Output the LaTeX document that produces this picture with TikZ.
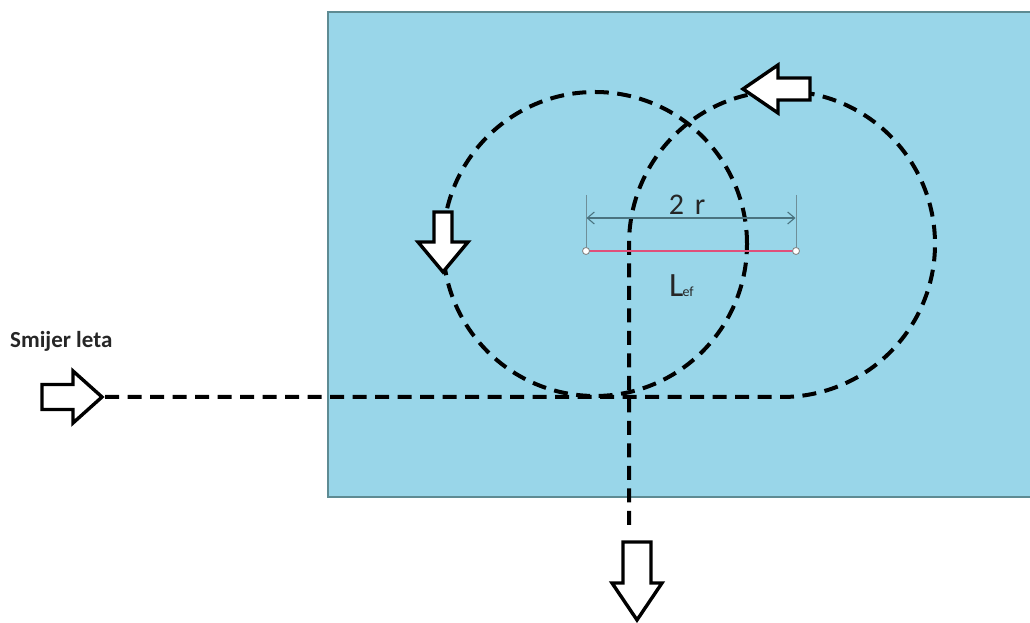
\documentclass[tikz,border=0pt]{standalone}
\usepackage{fontspec}
\setmainfont{Carlito}
\usetikzlibrary{arrows.meta}
\definecolor{sea}{HTML}{99D6E9}
\definecolor{seaedge}{HTML}{5E8B93}
\definecolor{dimcol}{HTML}{4A7380}
\definecolor{lefcol}{HTML}{E0507A}
\tikzset{
  flight/.style={draw=black, line width=4pt, dash pattern=on 14pt off 8.5pt},
  blockarrow/.style={draw=black, fill=white, line width=3.4pt, line join=miter},
  dimline/.style={draw=dimcol, line width=1.1pt},
  extline/.style={draw=dimcol!80, line width=0.9pt},
  endpt/.style={circle, draw=gray, fill=white, line width=0.8pt, inner sep=0pt, minimum size=7pt},
  txt/.style={inner sep=0pt, text=black!85}
}
\begin{document}
\begin{tikzpicture}[x=1pt,y=1pt]
\useasboundingbox (0,0) rectangle (1030,623);
% area
\draw[fill=sea, draw=seaedge, line width=1.6pt] (328,126) rectangle (1045,611);
% key points
\coordinate (start) at (105,226);
\coordinate (rbot) at (782,226);
\coordinate (lc) at (595,379);
\coordinate (exitpt) at (629,93);
% left full circle
\draw[flight] (lc) circle[radius=152];
% main flight path
\draw[flight] (start) -- (rbot) arc[start angle=-90, end angle=180, radius=153] -- (exitpt);
% dimension
\coordinate (dl) at (586,372);
\coordinate (dr) at (796,372);
\draw[extline] (586,428) -- (dl);
\draw[extline] (796,428) -- (dr);
\draw[dimline, {Straight Barb[length=7pt,width=12pt,line width=1.1pt]}-{Straight Barb[length=7pt,width=12pt,line width=1.1pt]}] (586.5,405) -- (795.5,405);
\draw[lefcol, line width=1.1pt] (dl) -- (dr);
\node[endpt] (pl) at (dl) {};
\node[endpt] (pr) at (dr) {};
\node[txt, anchor=base] (tworl) at (687,408) {\fontsize{30}{32}\selectfont 2\hspace{4pt} r};
\node[txt, anchor=base west] (lef) at (669,326) {\fontsize{34}{36}\selectfont L\kern-1pt\fontsize{14}{15}\selectfont ef};
% label
\node[txt, anchor=base west, font=\fontsize{23}{26}\selectfont\bfseries] (lbl) at (10,275) {Smijer leta};
% block arrows
\draw[blockarrow] (42,213.5) -- (73,213.5) -- (73,200) -- (102,226) -- (73,252) -- (73,238.5) -- (42,238.5) -- cycle;
\draw[blockarrow] (810,523) -- (778,523) -- (778,510) -- (743,534) -- (778,558) -- (778,545) -- (810,545) -- cycle;
\draw[blockarrow] (434,411) -- (434,381) -- (418,381) -- (443,351) -- (468,381) -- (452,381) -- (452,411) -- cycle;
\draw[blockarrow] (623,81) -- (623,40) -- (612,40) -- (637,3) -- (662,40) -- (651,40) -- (651,81) -- cycle;
\end{tikzpicture}
\end{document}
